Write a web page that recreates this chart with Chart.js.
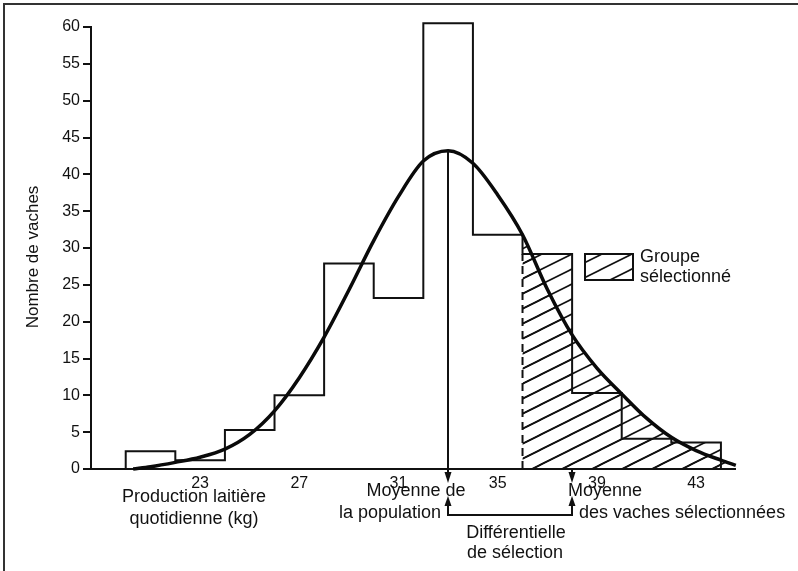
<!DOCTYPE html>
<html>
<head>
<meta charset="utf-8">
<script src="https://cdn.jsdelivr.net/npm/chart.js@4.4.1/dist/chart.umd.min.js"></script>
<style>
  html, body { margin: 0; padding: 0; background: #fff; }
  #wrap { width: 798px; height: 571px; }
</style>
</head>
<body>
<div id="wrap"><canvas id="histo" width="798" height="571"></canvas></div>
<script>
// classes de production (kg), bornes des barres
var binEdges = [20, 22, 24, 26, 28, 30, 32, 34, 36, 38, 40, 42, 44];
// nombre de vaches par classe
var counts = [2.4, 1.2, 5.3, 10.0, 27.9, 23.2, 60.5, 31.8, 29.2, 10.3, 4.1, 3.6];
// courbe ajustée
var curveX = [20.3, 21, 22, 23, 24, 25, 26, 27, 28, 29, 30, 31, 32, 33, 34, 35, 36, 37, 38, 39, 40, 41, 42, 43, 44, 44.6];
var curveY = [0, 0.3, 0.9, 1.6, 2.7, 4.7, 7.9, 12.4, 17.9, 24.3, 31.0, 37.0, 41.8, 43.2, 41.5, 37.2, 31.8, 24.4, 18.2, 13.7, 10.2, 6.9, 4.3, 2.5, 1.2, 0.5];
var xTicks = [23, 27, 31, 35, 39, 43];
var yMax = 60, yStep = 5;
var selectionStart = 36;
var populationMean = 33;
var selectedMean = 38;

var FONT = "'Liberation Sans', Arial, sans-serif";

function makeHatch() {
    var w = 30, h = 15;
    var c = document.createElement('canvas');
    c.width = w; c.height = h;
    var g = c.getContext('2d');
    g.strokeStyle = '#111';
    g.lineWidth = 1.6;
    [-w, 0, w].forEach(function(s) {
        g.beginPath();
        g.moveTo(-w + s, 2 * h);
        g.lineTo(2 * w + s, -h);
        g.stroke();
    });
    return g.createPattern(c, 'repeat');
}
var hatch = makeHatch();

// contour de l'histogramme
var histPoints = [{ x: binEdges[0], y: 0 }];
counts.forEach(function(c, i) { histPoints.push({ x: binEdges[i], y: c }); });
histPoints.push({ x: binEdges[binEdges.length - 1], y: 0 });

// partie sélectionnée (barres)
var selIdx = binEdges.indexOf(selectionStart);
var selPoints = [{ x: selectionStart, y: 0 }];
for (var i = selIdx; i < counts.length; i++) selPoints.push({ x: binEdges[i], y: counts[i] });
selPoints.push({ x: binEdges[binEdges.length - 1], y: 0 });

var curvePoints = curveX.map(function(x, i) { return { x: x, y: curveY[i] }; });
var curveTail = curvePoints.filter(function(p) { return p.x >= selectionStart; });

var annotations = {
    id: 'annotations',
    afterDraw: function(chart) {
        var ctx = chart.ctx;
        var xs = chart.scales.x, ys = chart.scales.y;
        ctx.save();

        // cadre
        ctx.strokeStyle = '#333';
        ctx.lineWidth = 2;
        ctx.beginPath();
        ctx.moveTo(4, 571); ctx.lineTo(4, 4); ctx.lineTo(798, 4);
        ctx.stroke();

        ctx.fillStyle = '#111';
        ctx.textBaseline = 'middle';

        // titre axe y
        ctx.save();
        ctx.translate(33, 257);
        ctx.rotate(-Math.PI / 2);
        ctx.font = '17px ' + FONT;
        ctx.textAlign = 'center';
        ctx.fillText('Nombre de vaches', 0, 0);
        ctx.restore();

        ctx.font = '18px ' + FONT;
        ctx.textAlign = 'center';
        ctx.fillText('Production laitière', 194, 497);
        ctx.fillText('quotidienne (kg)', 194, 519);
        ctx.fillText('Moyenne de', 416, 491);
        ctx.fillText('la population', 390, 513);
        ctx.fillText('Différentielle', 516, 533);
        ctx.fillText('de sélection', 515, 553);
        ctx.textAlign = 'left';
        ctx.fillText('Moyenne', 568, 491);
        ctx.fillText('des vaches sélectionnées', 579, 513);

        // légende
        ctx.fillStyle = hatch;
        ctx.fillRect(585, 254, 48, 26);
        ctx.strokeStyle = '#111';
        ctx.lineWidth = 2;
        ctx.strokeRect(585, 254, 48, 26);
        ctx.fillStyle = '#111';
        ctx.fillText('Groupe', 640, 257);
        ctx.fillText('sélectionné', 640, 277);

        // flèches
        var p1 = Math.round(xs.getPixelForValue(populationMean));
        var p2 = Math.round(xs.getPixelForValue(selectedMean));
        var peak = ys.getPixelForValue(Math.max.apply(null, curveY));
        var base = ys.getPixelForValue(0);
        ctx.lineWidth = 2;
        ctx.beginPath();
        ctx.moveTo(p1, peak); ctx.lineTo(p1, 474);
        ctx.moveTo(p2, base); ctx.lineTo(p2, 474);
        ctx.moveTo(p1, 503); ctx.lineTo(p1, 515); ctx.lineTo(p2, 515); ctx.lineTo(p2, 503);
        ctx.stroke();
        [p1, p2].forEach(function(p) {
            ctx.beginPath();
            ctx.moveTo(p - 3.5, 472); ctx.lineTo(p + 3.5, 472); ctx.lineTo(p, 483);
            ctx.closePath(); ctx.fill();
            ctx.beginPath();
            ctx.moveTo(p - 3.5, 506); ctx.lineTo(p + 3.5, 506); ctx.lineTo(p, 496);
            ctx.closePath(); ctx.fill();
        });
        ctx.restore();
    }
};

var ctx = document.getElementById('histo').getContext('2d');
var chart = new Chart(ctx, {
    type: 'line',
    data: {
        datasets: [
            {
                data: curvePoints,
                borderColor: '#0a0a0a',
                borderWidth: 3.5,
                cubicInterpolationMode: 'monotone',
                pointRadius: 0,
                fill: false,
                clip: false,
                order: 0
            },
            {
                data: histPoints,
                stepped: 'before',
                borderColor: '#111',
                borderWidth: 2,
                pointRadius: 0,
                fill: false,
                clip: false,
                order: 1
            },
            {
                data: [{ x: selectionStart, y: 0 }, { x: selectionStart, y: counts[selIdx] }],
                borderColor: '#111',
                borderWidth: 2,
                borderDash: [8, 5],
                pointRadius: 0,
                fill: false,
                order: 2
            },
            {
                data: selPoints,
                stepped: 'before',
                borderWidth: 0,
                borderColor: 'rgba(0,0,0,0)',
                backgroundColor: hatch,
                pointRadius: 0,
                fill: 'origin',
                order: 3
            },
            {
                data: curveTail,
                cubicInterpolationMode: 'monotone',
                borderWidth: 0,
                borderColor: 'rgba(0,0,0,0)',
                backgroundColor: hatch,
                pointRadius: 0,
                fill: 'origin',
                clip: false,
                order: 4
            }
        ]
    },
    options: {
        responsive: false,
        animation: false,
        devicePixelRatio: 1,
        layout: { padding: { left: 0, top: 27, right: 62.2, bottom: 0 } },
        plugins: { legend: { display: false }, tooltip: { enabled: false } },
        scales: {
            x: {
                type: 'linear',
                min: 18.6,
                max: 44.6,
                afterFit: function(scale) { scale.height = 102; },
                afterBuildTicks: function(scale) {
                    scale.ticks = xTicks.map(function(v) { return { value: v }; });
                },
                grid: { drawOnChartArea: false, drawTicks: false },
                border: { display: true, color: '#111', width: 2 },
                ticks: {
                    color: '#111',
                    font: { family: FONT, size: 16 },
                    padding: 5,
                    maxRotation: 0,
                    autoSkip: false
                }
            },
            y: {
                min: 0,
                max: yMax,
                afterFit: function(scale) { scale.width = 91; },
                grid: { drawOnChartArea: false, drawTicks: true, tickLength: 8, color: '#111', lineWidth: 2 },
                border: { display: true, color: '#111', width: 2 },
                ticks: {
                    stepSize: yStep,
                    color: '#111',
                    font: { family: FONT, size: 16 },
                    padding: 3
                }
            }
        }
    },
    plugins: [annotations]
});
</script>
</body>
</html>
